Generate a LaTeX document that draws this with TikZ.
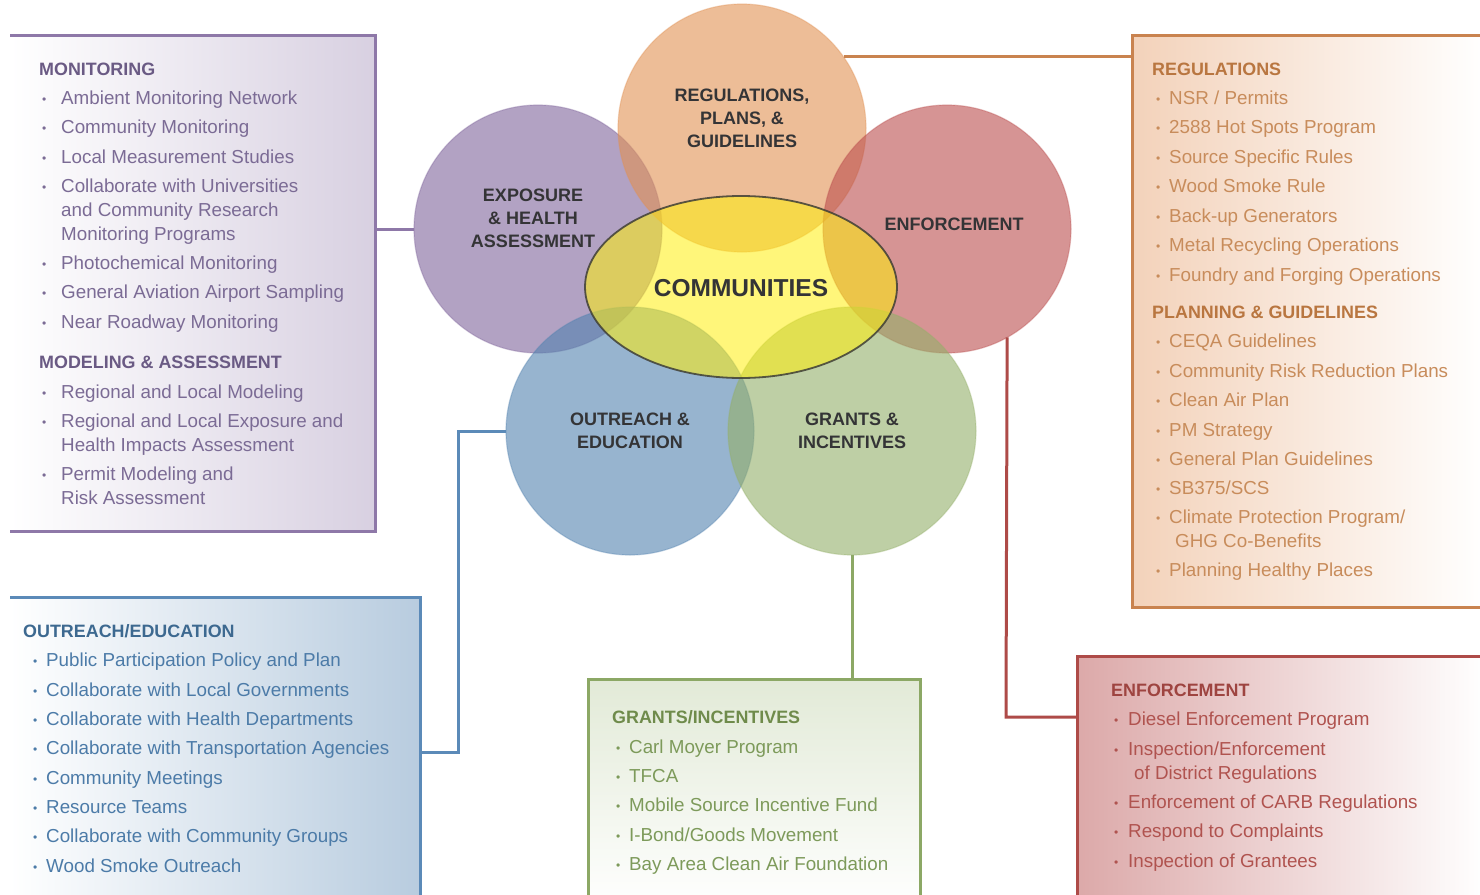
\documentclass[tikz,border=0pt]{standalone}
\usepackage{fontspec}
\setmainfont{Liberation Sans}
\usetikzlibrary{shapes.geometric}
% circle colours
\definecolor{cOra}{RGB}{225,145,83}
\definecolor{cPur}{RGB}{127,100,155}
\definecolor{cRed}{RGB}{187,78,78}
\definecolor{cBlu}{RGB}{82,130,175}
\definecolor{cGrn}{RGB}{148,175,105}
\definecolor{cYel}{RGB}{255,239,13}
\definecolor{labelgray}{RGB}{52,52,54}
\definecolor{ellline}{RGB}{62,62,54}
% panel colours
\definecolor{monLine}{RGB}{142,120,168}
\definecolor{monFill}{RGB}{216,208,225}
\definecolor{monHead}{RGB}{106,90,132}
\definecolor{monText}{RGB}{123,107,149}
\definecolor{regLine}{RGB}{201,131,79}
\definecolor{regFill}{RGB}{243,210,186}
\definecolor{regHead}{RGB}{185,118,64}
\definecolor{regText}{RGB}{200,140,91}
\definecolor{outLine}{RGB}{91,138,184}
\definecolor{outFill}{RGB}{184,204,223}
\definecolor{outHead}{RGB}{61,105,144}
\definecolor{outText}{RGB}{76,123,168}
\definecolor{graLine}{RGB}{140,168,101}
\definecolor{graFill}{RGB}{226,234,215}
\definecolor{graHead}{RGB}{111,139,75}
\definecolor{graText}{RGB}{125,154,90}
\definecolor{enfLine}{RGB}{174,75,72}
\definecolor{enfFill}{RGB}{220,169,169}
\definecolor{enfHead}{RGB}{158,68,64}
\definecolor{enfText}{RGB}{176,83,79}
\newcommand\bdot{{\fontsize{12}{12}\selectfont\raisebox{1.2pt}{•}}}
\tikzset{
  circ/.style={circle, minimum size=248pt, inner sep=0pt, outer sep=0pt, fill opacity=0.6,
    draw opacity=0.35, line width=1.2pt},
  clabel/.style={align=center, text=labelgray, inner sep=0pt,
    font=\bfseries\fontsize{18}{23}\selectfont},
  panel/.style={inner sep=0pt, outer sep=0pt, draw=none},
  linkline/.style={line width=3pt},
  itm/.style={anchor=base west, inner sep=0pt, font=\fontsize{18.8}{22}\selectfont},
  hd/.style={anchor=base west, inner sep=0pt, font=\bfseries\fontsize{17.9}{22}\selectfont},
}
\begin{document}
\begin{tikzpicture}[x=1pt,y=-1pt]
\clip (0,0) rectangle (1480,894);
\fill[white] (0,0) rectangle (1480,894);

% ---------- panels ----------
\node[panel, minimum width=365pt, minimum height=496pt, left color=white, right color=monFill]
  (monbox) at (192.5,283) {};
\draw[linkline, monLine] (monbox.north west) -- (monbox.north east) -- (monbox.south east) -- (monbox.south west);

\node[panel, minimum width=353pt, minimum height=572pt, left color=regFill, right color=white]
  (regbox) at (1308.5,321) {};
\draw[linkline, regLine] (regbox.north east) -- (regbox.north west) -- (regbox.south west) -- (regbox.south east);

\node[panel, minimum width=410pt, minimum height=310pt, left color=white, right color=outFill]
  (outbox) at (215,752) {};
\draw[linkline, outLine] (outbox.north west) -- (outbox.north east) -- (outbox.south east);

\node[panel, minimum width=332pt, minimum height=230pt, top color=graFill, bottom color=white]
  (grabox) at (754,794) {};
\draw[linkline, graLine] (grabox.south west) -- (grabox.north west) -- (grabox.north east) -- (grabox.south east);

\node[panel, minimum width=408pt, minimum height=250pt, left color=enfFill, right color=white]
  (enfbox) at (1281,781) {};
\draw[linkline, enfLine] (enfbox.south west) -- (enfbox.north west) -- (enfbox.north east);

% ---------- circles ----------
\node[circ, fill=cPur, draw=cPur] (expc) at (538,229) {};
\node[circ, fill=cOra, draw=cOra] (regc) at (742,128) {};
\node[circ, fill=cRed, draw=cRed] (enfc) at (947,229) {};
\node[circ, fill=cBlu, draw=cBlu] (outc) at (630,431) {};
\node[circ, fill=cGrn, draw=cGrn] (grac) at (852,431) {};
\node[ellipse, minimum width=312pt, minimum height=182pt, inner sep=0pt,
  fill=cYel, fill opacity=0.55, draw=ellline, draw opacity=0.85, line width=1.8pt]
  (comm) at (741,287) {};

% ---------- connectors ----------
\draw[linkline, monLine] (expc.west) -- (expc.west -| monbox.east);
\draw[linkline, regLine] (regc.35) -- (regc.35 -| regbox.west);
\coordinate (enfk) at (1006,717);
\draw[linkline, enfLine] (enfc.-61.6) -- (enfk) -- (enfk -| enfbox.west);
\coordinate (outk) at (458,431);
\draw[linkline, outLine] (outc.west) -- (outk) |- (outbox.east);
\draw[linkline, graLine] (grac.south) -- (grac.south |- grabox.north);

\node[clabel] (regl) at (742,118) {REGULATIONS,\\PLANS, \&\\GUIDELINES};
\node[clabel] (expl) at (533,218) {EXPOSURE\\\& HEALTH\\ASSESSMENT};
\node[clabel] (enfl) at (954,224) {ENFORCEMENT};
\node[clabel] (outl) at (630,431) {OUTREACH \&\\EDUCATION};
\node[clabel] (gral) at (852,431) {GRANTS \&\\INCENTIVES};
\node[clabel, font=\bfseries\fontsize{24.5}{28}\selectfont] (comml) at (741,288) {COMMUNITIES};

% ---------- panel texts ----------
% Monitoring
\node[hd, text=monHead] (monh1) at (39,75.5) {MONITORING};
\foreach \yv/\bl/\lbl [count=\i] in {
  98/\bdot/Ambient Monitoring Network,
  127/\bdot/Community Monitoring,
  157/\bdot/Local Measurement Studies,
  186/\bdot/Collaborate with Universities,
  210//and Community Research,
  234//Monitoring Programs,
  263/\bdot/Photochemical Monitoring,
  292/\bdot/General Aviation Airport Sampling,
  322/\bdot/Near Roadway Monitoring}
  {\node[itm, text=monText] (mon\i) at (42,\yv+6.5) {\makebox[19pt][l]{\bl}\lbl};}
\node[hd, text=monHead] (monh2) at (39,368.5) {MODELING \& ASSESSMENT};
\foreach \yv/\bl/\lbl [count=\i] in {
  392/\bdot/Regional and Local Modeling,
  421/\bdot/Regional and Local Exposure and,
  445//Health Impacts Assessment,
  474/\bdot/Permit Modeling and,
  498//Risk Assessment}
  {\node[itm, text=monText] (mod\i) at (42,\yv+6.5) {\makebox[19pt][l]{\bl}\lbl};}

% Regulations
\node[hd, text=regHead] (regh1) at (1152,75.5) {REGULATIONS};
\foreach \yv/\bl/\lbl [count=\i] in {
  98/\bdot/{NSR / Permits},
  127/\bdot/2588 Hot Spots Program,
  157/\bdot/Source Specific Rules,
  186/\bdot/Wood Smoke Rule,
  216/\bdot/Back-up Generators,
  245/\bdot/Metal Recycling Operations,
  275/\bdot/Foundry and Forging Operations}
  {\node[itm, text=regText] (reg\i) at (1156,\yv+6.5) {\makebox[13pt][l]{\bl}\lbl};}
\node[hd, text=regHead] (regh2) at (1152,318.5) {PLANNING \& GUIDELINES};
\foreach \yv/\bl/\lbl [count=\i] in {
  341/\bdot/CEQA Guidelines,
  371/\bdot/Community Risk Reduction Plans,
  400/\bdot/Clean Air Plan,
  430/\bdot/PM Strategy,
  459/\bdot/General Plan Guidelines,
  488/\bdot/{SB375/SCS},
  517/\bdot/{Climate Protection Program/},
  541//{\hspace{6pt}GHG Co-Benefits},
  570/\bdot/Planning Healthy Places}
  {\node[itm, text=regText] (pla\i) at (1156,\yv+6.5) {\makebox[13pt][l]{\bl}\lbl};}

% Outreach
\node[hd, text=outHead] (outh) at (23,637.5) {OUTREACH/EDUCATION};
\foreach \yv/\bl/\lbl [count=\i] in {
  660/\bdot/Public Participation Policy and Plan,
  690/\bdot/Collaborate with Local Governments,
  719/\bdot/Collaborate with Health Departments,
  748/\bdot/Collaborate with Transportation Agencies,
  778/\bdot/Community Meetings,
  807/\bdot/Resource Teams,
  836/\bdot/Collaborate with Community Groups,
  866/\bdot/Wood Smoke Outreach}
  {\node[itm, text=outText] (out\i) at (33,\yv+6.5) {\makebox[13pt][l]{\bl}\lbl};}

% Grants
\node[hd, text=graHead] (grah) at (612,723.5) {GRANTS/INCENTIVES};
\foreach \yv/\bl/\lbl [count=\i] in {
  747/\bdot/Carl Moyer Program,
  776/\bdot/TFCA,
  805/\bdot/Mobile Source Incentive Fund,
  835/\bdot/{I-Bond/Goods Movement},
  864/\bdot/Bay Area Clean Air Foundation}
  {\node[itm, text=graText] (gra\i) at (616,\yv+6.5) {\makebox[13pt][l]{\bl}\lbl};}

% Enforcement
\node[hd, text=enfHead] (enfh) at (1111,696.5) {ENFORCEMENT};
\foreach \yv/\bl/\lbl [count=\i] in {
  719/\bdot/Diesel Enforcement Program,
  749/\bdot/{Inspection/Enforcement},
  773//{\hspace{6pt}of District Regulations},
  802/\bdot/Enforcement of CARB Regulations,
  831/\bdot/Respond to Complaints,
  861/\bdot/Inspection of Grantees}
  {\node[itm, text=enfText] (enf\i) at (1114,\yv+6.5) {\makebox[14pt][l]{\bl}\lbl};}
\end{tikzpicture}
\end{document}
